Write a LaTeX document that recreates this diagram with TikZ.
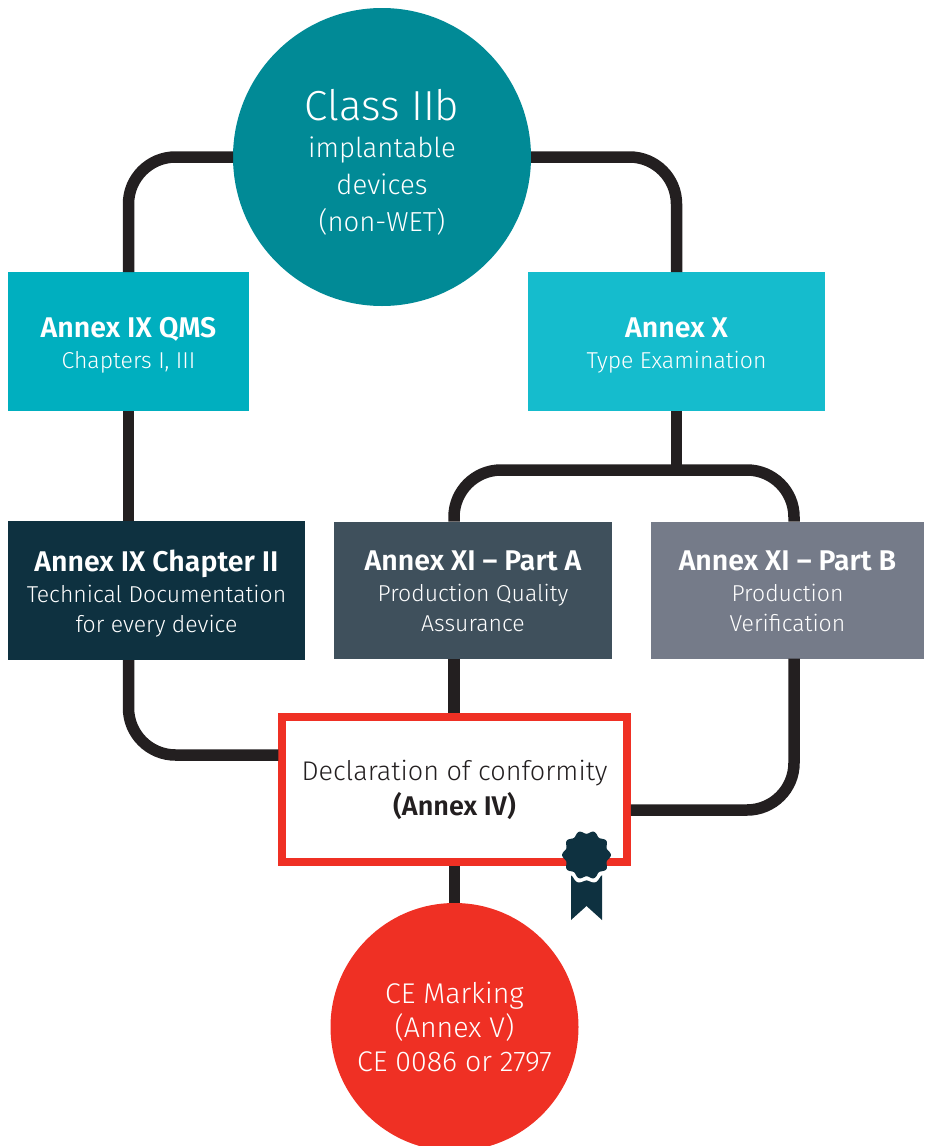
\documentclass[tikz,border=0pt]{standalone}
\usepackage{fontspec}
\setmainfont{Fira Sans Light}[BoldFont={Fira Sans SemiBold}]
\usetikzlibrary{calc}
\definecolor{tealtop}{HTML}{018A96}
\definecolor{qmsblue}{HTML}{00AFBF}
\definecolor{xblue}{HTML}{15BCCD}
\definecolor{navybox}{HTML}{0E3140}
\definecolor{slatebox}{HTML}{3F505C}
\definecolor{greybox}{HTML}{757B89}
\definecolor{cered}{HTML}{EF3024}
\definecolor{linkblack}{HTML}{231F20}
\newcommand{\boxtitle}[1]{\rule{0pt}{28pt}{\fontsize{28.5}{31}\selectfont\bfseries #1}}
\tikzset{
  annexbox/.style={rectangle, inner sep=0pt, outer sep=0pt, text=white, align=center,
    font=\fontsize{23}{29.5}\selectfont},
  roundnode/.style={circle, inner sep=0pt, outer sep=0pt, text=white, align=center},
  link/.style={draw=linkblack, line width=11.5pt, rounded corners=47pt}
}
\begin{document}
\begin{tikzpicture}[x=1pt,y=-1pt]
  \useasboundingbox (0,0) rectangle (924,1146);
  \node[roundnode, fill=tealtop, minimum size=298pt, font=\fontsize{27.5}{37}\selectfont] (classIIb) at (382,157)
    {\rule{0pt}{42pt}{\fontsize{42}{46}\selectfont Class IIb}\\implantable\\devices\\(non-WET)};
  \node[roundnode, fill=cered, minimum size=248pt, font=\fontsize{28.5}{34}\selectfont] (marking) at (454.5,1027)
    {CE Marking\\(Annex V)\\CE 0086 or 2797};
  \foreach \n/\x/\y/\w/\h/\c/\t/\s in {
    qms/128.5/341.5/241/139/qmsblue/Annex IX QMS/{Chapters I, III},
    annexX/676.5/341.5/297/139/xblue/Annex X/Type Examination,
    chapII/156.5/590.5/297/139/navybox/Annex IX Chapter II/{Technical Documentation\\for every device},
    partA/473/590/278/137/slatebox/Annex XI -- Part A/{Production Quality\\Assurance\rule[-6pt]{0pt}{6pt}},
    partB/787.5/590/273/137/greybox/Annex XI -- Part B/{Production\\Verification\rule[-6pt]{0pt}{6pt}}%
  } {
    \node[annexbox, fill=\c, minimum width=\w pt, minimum height=\h pt] (\n) at (\x,\y)
      {\boxtitle{\t}\\[1.5pt]\s};
  }
  \node[rectangle, draw=cered, line width=7.5pt, fill=white, minimum width=345pt, minimum height=145pt,
    align=center, text=linkblack, font=\fontsize{27}{35}\selectfont] (conformity) at (454.5,789.5)
    {Declaration of conformity\\\textbf{(Annex IV)}};
  \coordinate (confleft) at (conformity.west |- 0,755);
  \coordinate (confright) at (conformity.east |- 0,810);
  \coordinate (confA) at (454,0 |- conformity.north);
  \coordinate (archA) at (454,0 |- partA.north);
  \coordinate (archB) at (794,0 |- partB.north);
  \coordinate (archtop) at (annexX.south |- 0,470);
  \draw[link] (classIIb.west) -| (qms.north);
  \draw[link] (classIIb.east) -| (annexX.north);
  \draw[link] (qms.south) -- (qms.south |- chapII.north);
  \draw[link] (qms.south |- chapII.south) |- (confleft);
  \draw[link] (annexX.south) -- (archtop);
  \draw[link] (archA) |- (archtop) -| (archB);
  \draw[link] (archA |- partA.south) -- (confA);
  \draw[link] (archB |- partB.south) |- (confright);
  \draw[link] (conformity.south) -- (marking.north);
  % ribbon and seal
  \fill[navybox] (571,872) -- (602,872) -- (602,920) -- (586.5,906) -- (571,920) -- cycle;
  \begin{scope}
    \clip (560,870) rectangle (612,900);
    \fill[white] plot[domain=0:360,samples=120,smooth] ({586.5+(27+1.6*cos(10*\x))*cos(\x)},{855+(27+1.6*cos(10*\x))*sin(\x)});
  \end{scope}
  \fill[navybox] plot[domain=0:360,samples=120,smooth] ({586.5+(22.8+1.6*cos(10*\x))*cos(\x)},{855+(22.8+1.6*cos(10*\x))*sin(\x)}) -- cycle;
\end{tikzpicture}
\end{document}
